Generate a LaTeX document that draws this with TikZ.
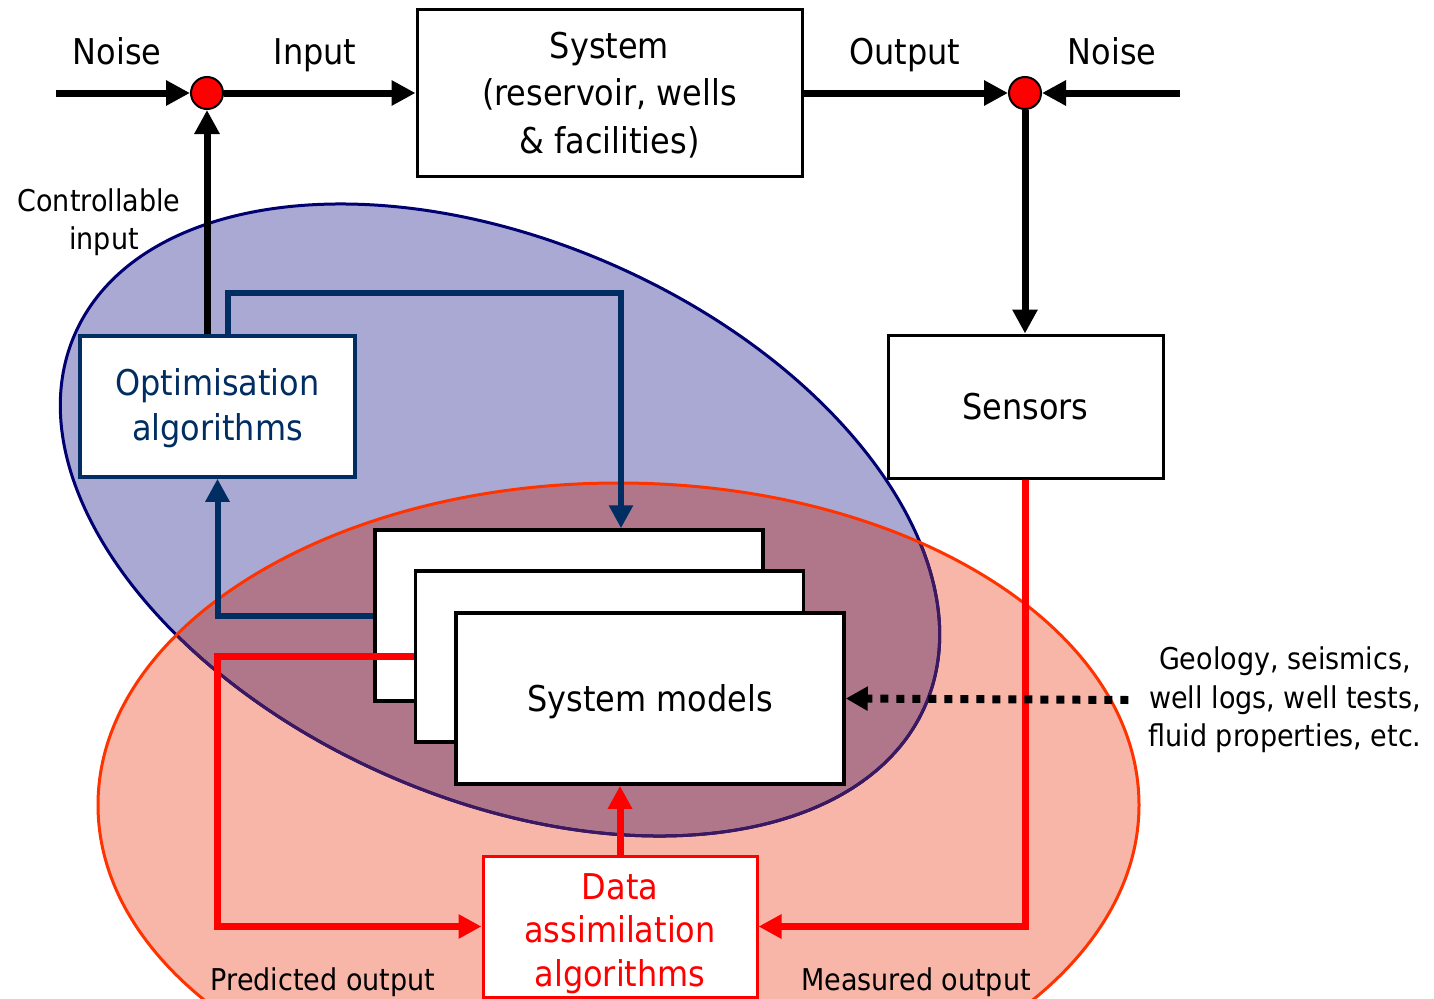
\documentclass[tikz,border=0pt]{standalone}
\usepackage{fontspec}
\setmainfont{DejaVu Sans}[FakeStretch=0.9]
\usetikzlibrary{arrows.meta}

\definecolor{navyline}{HTML}{002D62}
\definecolor{blueedge}{HTML}{000070}
\definecolor{rededge}{HTML}{FF3300}
\definecolor{bluefill}{HTML}{A9A9D3}
\definecolor{redfill}{HTML}{F8B6A9}
\definecolor{bothfill}{HTML}{B0778A}
\definecolor{blueedgeinred}{HTML}{3C1860}
\definecolor{pureRed}{HTML}{FF0000}

\newcommand\bigtxt{\fontsize{35.5}{45}\selectfont}
\newcommand\smalltxt{\fontsize{30}{38.5}\selectfont}

\begin{document}
\begin{tikzpicture}[x=1pt,y=-1pt,
  box/.style={draw=black, line width=3pt, fill=white, inner sep=0pt,
    align=center, font=\bigtxt},
  optbox/.style={box, draw=navyline, text=navyline, line width=3.5pt},
  dabox/.style={box, draw=pureRed, text=pureRed},
  modelbox/.style={box, line width=3.5pt, minimum width=388pt, minimum height=171pt},
  sumpt/.style={circle, draw=black, line width=2pt, fill=pureRed,
    minimum size=32pt, inner sep=0pt},
  biglbl/.style={font=\bigtxt, inner sep=0pt},
  smalllbl/.style={font=\smalltxt, inner sep=0pt, align=center},
  blackarrow/.style={line width=7pt, -{Triangle[length=24pt, width=24pt]}},
  navyarrow/.style={draw=navyline, line width=6pt,
    -{Triangle[length=23pt, width=23pt]}},
  redarrow/.style={draw=pureRed, line width=7pt,
    -{Triangle[length=23pt, width=23pt]}},
  dotarrow/.style={line width=8pt, dash pattern=on 8pt off 8pt,
    -{Triangle[length=22pt, width=23pt]}},
  blueell/.style={rotate around={-23.6:(500,520)}}
]
\useasboundingbox (0,0) rectangle (1434,998);

% the two overlapping domains
\fill[bluefill, blueell] (500,520) ellipse [x radius=464, y radius=279];
\fill[redfill] (618.5,805) ellipse [x radius=520.5, y radius=322];
\begin{scope}
  \clip[blueell] (500,520) ellipse [x radius=464, y radius=279];
  \fill[bothfill] (618.5,805) ellipse [x radius=520.5, y radius=322];
\end{scope}
\draw[blueedge, line width=3pt, blueell] (500,520) ellipse [x radius=464, y radius=279];
\begin{scope}
  \clip (618.5,805) ellipse [x radius=520.5, y radius=322];
  \draw[blueedgeinred, line width=3pt, blueell] (500,520) ellipse [x radius=464, y radius=279];
\end{scope}
\draw[rededge, line width=3pt] (618.5,805) ellipse [x radius=520.5, y radius=322];

% blocks
\node[box, minimum width=385pt, minimum height=166pt,
  font=\fontsize{35.5}{47.5}\selectfont] (system) at (609.5,93)
  {\rule{0pt}{30pt}System\\(reservoir, wells\\\& facilities)};
\node[box, minimum width=275pt, minimum height=143pt] (sensors) at (1025.5,406.5) {Sensors};
\node[optbox, minimum width=275pt, minimum height=141pt] (optim) at (217.5,406.5)
  {\rule{0pt}{30pt}Optimisation\\algorithms};
\node[modelbox] (model1) at (569,615.5) {};
\node[modelbox] (model2) at (609.5,656.5) {};
\node[modelbox, text depth=0pt] (model3) at (650,698.5) {System models};
\node[dabox, minimum width=274pt, minimum height=141pt,
  font=\fontsize{35.5}{43.5}\selectfont] (da) at (620,926.5)
  {\rule{0pt}{40pt}Data\\assimilation\\algorithms};

\node[sumpt] (sum1) at (207,93) {};
\node[sumpt] (sum2) at (1025,93) {};

% labels
\node[biglbl, anchor=base] (noise1) at (117,64) {Noise};
\node[biglbl, anchor=base] (input) at (315,64) {Input};
\node[biglbl, anchor=base] (output) at (905,64) {Output};
\node[biglbl, anchor=base] (noise2) at (1112,64) {Noise};
\node[smalllbl] (ctrl) at (99,222) {Controllable\\\hspace*{10pt}input};
\node[smalllbl, anchor=base] (pred) at (323,990) {Predicted output};
\node[smalllbl, anchor=base] (meas) at (916,990) {Measured output};
\node[smalllbl, inner xsep=20pt] (geo) at (1285,700)
  {Geology, seismics,\\well logs, well tests,\\fluid properties, etc.};

\coordinate (noise1end) at (56,93);
\coordinate (noise2end) at (1180,93);
\coordinate (navytop) at (621,293);

% signal flow
\draw[blackarrow] (noise1end) -- (sum1);
\draw[blackarrow] (sum1) -- (system);
\draw[blackarrow] (system) -- (sum2);
\draw[blackarrow] (noise2end) -- (sum2);
\draw[blackarrow] (sum2) -- (sum2 |- sensors.north);
\draw[blackarrow] (optim.north -| sum1) -- (sum1);

\draw[navyarrow] ([xshift=10.5pt]optim.north) |- (navytop) -- (navytop |- model1.north);
\draw[navyarrow] (model1.west) -| (optim.south);

\draw[redarrow] (model2.west) -| (optim.south |- da.west) -- (da.west);
\draw[redarrow] (da.north) -- (da.north |- model3.south);
\draw[redarrow] (sensors.south) |- (da.east);

\draw[dotarrow] (geo.west) -- (model3.east);
\end{tikzpicture}
\end{document}
